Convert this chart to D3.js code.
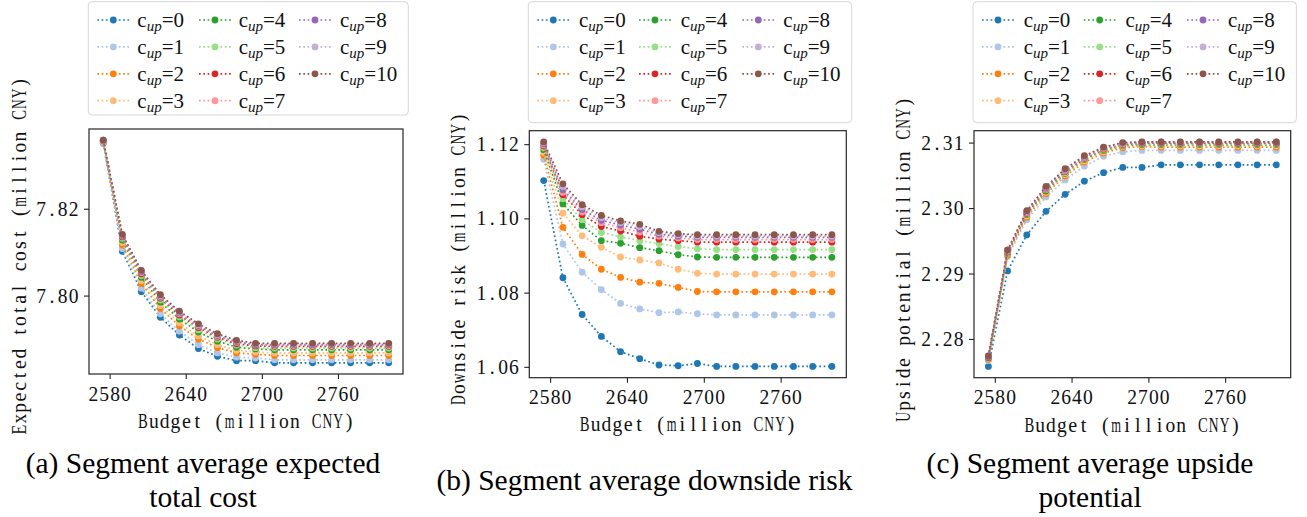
<!DOCTYPE html>
<html><head><meta charset="utf-8">
<script src="https://cdn.jsdelivr.net/npm/d3@7"></script>
<style>body{margin:0;background:#fff} svg{display:block}</style>
</head><body>
<svg id="chart" width="1307" height="517"></svg>
<script>
// ---------- data ----------
const budgets = [2575,2590,2605,2620,2635,2650,2665,2680,2695,2710,2725,2740,2755,2770,2785,2800];
const cupValues = [0,1,2,3,4,5,6,7,8,9,10];
const seriesColors = ["#1f77b4","#aec7e8","#ff7f0e","#ffbb78","#2ca02c","#98df8a","#d62728","#ff9896","#9467bd","#c5b0d5","#8c564b"];
const xTickValues = [2580,2640,2700,2760];

const expectedCost = [
 [7.8351,7.8102,7.8009,7.7950,7.7909,7.7878,7.7860,7.7850,7.7850,7.7845,7.7845,7.7845,7.7845,7.7845,7.7845,7.7845],
 [7.8352,7.8108,7.8017,7.7958,7.7918,7.7887,7.7868,7.7858,7.7856,7.7852,7.7852,7.7852,7.7852,7.7852,7.7852,7.7852],
 [7.8354,7.8117,7.8028,7.7970,7.7930,7.7900,7.7880,7.7868,7.7865,7.7862,7.7862,7.7862,7.7862,7.7862,7.7862,7.7862],
 [7.8355,7.8122,7.8034,7.7977,7.7937,7.7907,7.7887,7.7874,7.7870,7.7868,7.7868,7.7868,7.7868,7.7868,7.7868,7.7868],
 [7.8356,7.8128,7.8042,7.7985,7.7946,7.7916,7.7895,7.7881,7.7877,7.7875,7.7875,7.7875,7.7875,7.7875,7.7875,7.7875],
 [7.8356,7.8132,7.8046,7.7990,7.7951,7.7921,7.7900,7.7886,7.7880,7.7879,7.7879,7.7879,7.7879,7.7879,7.7879,7.7879],
 [7.8357,7.8135,7.8050,7.7994,7.7955,7.7926,7.7904,7.7889,7.7884,7.7883,7.7883,7.7883,7.7883,7.7883,7.7883,7.7883],
 [7.8357,7.8137,7.8053,7.7996,7.7958,7.7929,7.7906,7.7892,7.7886,7.7885,7.7885,7.7885,7.7885,7.7885,7.7885,7.7885],
 [7.8358,7.8138,7.8055,7.7998,7.7960,7.7931,7.7908,7.7894,7.7887,7.7887,7.7887,7.7887,7.7887,7.7887,7.7887,7.7887],
 [7.8358,7.8140,7.8057,7.8000,7.7962,7.7933,7.7910,7.7896,7.7889,7.7889,7.7889,7.7889,7.7889,7.7889,7.7889,7.7889],
 [7.8358,7.8141,7.8058,7.8002,7.7964,7.7935,7.7912,7.7897,7.7890,7.7890,7.7890,7.7890,7.7890,7.7890,7.7890,7.7890]
];
const downsideRisk = [
 [1.1102,1.0840,1.0741,1.0682,1.0641,1.0622,1.0605,1.0603,1.0609,1.0601,1.0601,1.0601,1.0601,1.0601,1.0601,1.0601],
 [1.1159,1.0931,1.0855,1.0808,1.0771,1.0756,1.0746,1.0748,1.0743,1.0740,1.0740,1.0740,1.0740,1.0740,1.0740,1.0740],
 [1.1170,1.0976,1.0903,1.0863,1.0841,1.0828,1.0825,1.0814,1.0803,1.0802,1.0802,1.0802,1.0802,1.0802,1.0802,1.0802],
 [1.1178,1.1014,1.0953,1.0922,1.0896,1.0888,1.0880,1.0863,1.0852,1.0850,1.0850,1.0850,1.0850,1.0850,1.0850,1.0850],
 [1.1185,1.1039,1.0981,1.0940,1.0933,1.0921,1.0913,1.0902,1.0896,1.0895,1.0895,1.0895,1.0895,1.0895,1.0895,1.0895],
 [1.1190,1.1053,1.0996,1.0962,1.0950,1.0940,1.0932,1.0924,1.0918,1.0916,1.0916,1.0916,1.0916,1.0916,1.0916,1.0916],
 [1.1195,1.1064,1.1010,1.0978,1.0966,1.0952,1.0944,1.0940,1.0936,1.0936,1.0936,1.0936,1.0936,1.0936,1.0936,1.0936],
 [1.1198,1.1070,1.1017,1.0988,1.0975,1.0963,1.0952,1.0947,1.0943,1.0943,1.0943,1.0943,1.0943,1.0943,1.0943,1.0943],
 [1.1201,1.1077,1.1024,1.0995,1.0982,1.0971,1.0957,1.0952,1.0949,1.0949,1.0949,1.0949,1.0949,1.0949,1.0949,1.0949],
 [1.1204,1.1086,1.1031,1.1002,1.0988,1.0978,1.0961,1.0956,1.0952,1.0952,1.0952,1.0952,1.0952,1.0952,1.0952,1.0952],
 [1.1206,1.1093,1.1037,1.1008,1.0993,1.0984,1.0965,1.0959,1.0956,1.0956,1.0956,1.0956,1.0956,1.0956,1.0956,1.0956]
];
const upsidePotential = [
 [2.2758,2.2904,2.2959,2.2995,2.3021,2.3041,2.3054,2.3062,2.3062,2.3066,2.3066,2.3066,2.3066,2.3066,2.3066,2.3066],
 [2.2767,2.2926,2.2982,2.3017,2.3043,2.3064,2.3079,2.3086,2.3088,2.3088,2.3088,2.3088,2.3088,2.3088,2.3088,2.3088],
 [2.2769,2.2928,2.2986,2.3022,2.3049,2.3070,2.3084,2.3092,2.3094,2.3093,2.3093,2.3093,2.3093,2.3093,2.3093,2.3093],
 [2.2770,2.2930,2.2988,2.3024,2.3051,2.3072,2.3086,2.3094,2.3095,2.3095,2.3095,2.3095,2.3095,2.3095,2.3095,2.3095],
 [2.2771,2.2931,2.2990,2.3026,2.3053,2.3074,2.3088,2.3095,2.3097,2.3097,2.3097,2.3097,2.3097,2.3097,2.3097,2.3097],
 [2.2772,2.2932,2.2991,2.3028,2.3054,2.3075,2.3089,2.3096,2.3098,2.3098,2.3098,2.3098,2.3098,2.3098,2.3098,2.3098],
 [2.2772,2.2933,2.2992,2.3029,2.3056,2.3076,2.3090,2.3097,2.3099,2.3099,2.3099,2.3099,2.3099,2.3099,2.3099,2.3099],
 [2.2773,2.2934,2.2993,2.3030,2.3057,2.3077,2.3091,2.3098,2.3100,2.3100,2.3100,2.3100,2.3100,2.3100,2.3100,2.3100],
 [2.2773,2.2935,2.2994,2.3031,2.3058,2.3078,2.3092,2.3099,2.3100,2.3100,2.3100,2.3100,2.3100,2.3100,2.3100,2.3100],
 [2.2774,2.2935,2.2995,2.3032,2.3059,2.3079,2.3092,2.3099,2.3101,2.3101,2.3101,2.3101,2.3101,2.3101,2.3101,2.3101],
 [2.2774,2.2936,2.2996,2.3033,2.3060,2.3080,2.3093,2.3100,2.3101,2.3101,2.3101,2.3101,2.3101,2.3101,2.3101,2.3101]
];
const yTicksA = [7.80, 7.82];
const yTicksB = [1.06, 1.08, 1.10, 1.12];
const yTicksC = [2.28, 2.29, 2.30, 2.31];
const yLabels = ["Expected total cost (million CNY)", "Downside risk (million CNY)", "Upside potential (million CNY)"];
const xLabel = "Budget (million CNY)";
const captions = [["(a) Segment average expected","total cost"],["(b) Segment average downside risk"],["(c) Segment average upside","potential"]];

// ---------- layout ----------
const panels = [
 {data: expectedCost, yTicks: yTicksA, yLabel: yLabels[0], cap: captions[0],
  L:89, R:403, T:129, B:374, ylx:26, yly:256, xly:428, xty:400.5, capX:203, capY:[473,507],
  leg:{x:88.3, y:1.7, w:320, h:113.3, mk:[25,126.7,226.7], tx:[49,150.4,251.7]}},
 {data: downsideRisk, yTicks: yTicksB, yLabel: yLabels[1], cap: captions[1],
  L:529.3, R:846.3, T:130.7, B:377.7, ylx:465, yly:259, xly:431, xty:403.5, capX:644.5, capY:[490],
  leg:{x:528.3, y:1.7, w:323.4, h:121, mk:[25,126.7,230], tx:[50.7,152.4,255]}},
 {data: upsidePotential, yTicks: yTicksC, yLabel: yLabels[2], cap: captions[2],
  L:974, R:1290.7, T:130.7, B:377.7, ylx:910, yly:259.5, xly:432, xty:403.5, capX:1090, capY:[473,507],
  leg:{x:973, y:1.7, w:323.4, h:121, mk:[25,126.7,230], tx:[50.7,152.4,255]}}
];

const svg = d3.select("#chart");
const SERIF = "'Liberation Serif', 'DejaVu Serif', serif";
const CELL = 10.85, MSIZE = 20;

// half-width serif "monospace" text (mimics SimSun Latin glyphs)
function monoText(parent, str, x, y, anchor, rot) {
  const g = parent.append("g").attr("transform", `translate(${x},${y}) rotate(${rot||0})`);
  const total = str.length * CELL;
  const start = anchor === "middle" ? -total/2 : anchor === "end" ? -total : 0;
  [...str].forEach((ch, k) => {
    if (ch === " ") return;
    const cx = start + (k + 0.5) * CELL;
    const t = g.append("text").attr("x", cx).attr("y", 0).attr("text-anchor", "middle")
      .attr("font-family", SERIF).attr("font-size", MSIZE).attr("fill", "#111").text(ch);
    const w = t.node().getComputedTextLength();
    const maxW = CELL * 0.9;
    if (w > maxW) {
      const s = maxW / w;
      t.attr("transform", `translate(${cx},0) scale(${s},1) translate(${-cx},0)`);
    }
  });
  return g;
}

const xExt = d3.extent(budgets);
const xPad = (xExt[1]-xExt[0])*0.05;

panels.forEach(p => {
  const all = p.data.flat();
  const yExt = d3.extent(all);
  const yPad = (yExt[1]-yExt[0])*0.05;
  const x = d3.scaleLinear().domain([xExt[0]-xPad, xExt[1]+xPad]).range([p.L, p.R]);
  const y = d3.scaleLinear().domain([yExt[0]-yPad, yExt[1]+yPad]).range([p.B, p.T]);

  // series
  const line = d3.line().x((d,j)=>x(budgets[j])).y(d=>y(d));
  const gS = svg.append("g");
  p.data.forEach((vals,i) => {
    const g = gS.append("g");
    g.append("path").datum(vals).attr("d", line).attr("fill","none")
      .attr("stroke", seriesColors[i]).attr("stroke-width",1.7)
      .attr("stroke-dasharray","1.7,2.6");
    g.selectAll("circle").data(vals).join("circle")
      .attr("cx",(d,j)=>x(budgets[j])).attr("cy",d=>y(d)).attr("r",3.4)
      .attr("fill", seriesColors[i]);
  });

  // axes (tick marks from d3, labels as half-width serif text)
  const xa = svg.append("g").attr("transform",`translate(0,${p.B})`)
    .call(d3.axisBottom(x).tickValues(xTickValues).tickSize(5).tickFormat(""));
  const ya = svg.append("g").attr("transform",`translate(${p.L},0)`)
    .call(d3.axisLeft(y).tickValues(p.yTicks).tickSize(5).tickFormat(""));
  [xa,ya].forEach(a => {
    a.select(".domain").remove();
    a.selectAll("text").remove();
    a.selectAll("line").attr("stroke","#222").attr("stroke-width",1.1);
  });
  const fx = d3.format("d"), fy = d3.format(".2f");
  xTickValues.forEach(v => monoText(svg, fx(v), x(v), p.xty, "middle"));
  p.yTicks.forEach(v => monoText(svg, fy(v), p.L - 10, y(v) + 7, "end"));

  // frame
  svg.append("rect").attr("x",p.L).attr("y",p.T).attr("width",p.R-p.L).attr("height",p.B-p.T)
    .attr("fill","none").attr("stroke","#262626").attr("stroke-width",1.2);

  // axis labels
  monoText(svg, xLabel, (p.L+p.R)/2, p.xly, "middle");
  monoText(svg, p.yLabel, p.ylx, p.yly, "middle", -90);

  // captions
  p.cap.forEach((t,k) => {
    svg.append("text").attr("x",p.capX).attr("y",p.capY[k]).attr("text-anchor","middle")
      .attr("font-family",SERIF).attr("font-size",29.5).attr("fill","#000").text(t);
  });

  // legend
  const lg = svg.append("g").attr("transform",`translate(${p.leg.x},${p.leg.y})`);
  lg.append("rect").attr("x",0).attr("y",0).attr("width",p.leg.w).attr("height",p.leg.h)
    .attr("rx",4).attr("fill","#fff").attr("fill-opacity",0.8).attr("stroke","#d6d6d6").attr("stroke-width",1);
  cupValues.forEach((c,i) => {
    const col = Math.floor(i/4), row = i%4;
    const cy = 18.3 + row*26.9;
    const mx = p.leg.mk[col];
    lg.append("line").attr("x1",mx-16).attr("x2",mx+16).attr("y1",cy).attr("y2",cy)
      .attr("stroke",seriesColors[i]).attr("stroke-width",1.7).attr("stroke-dasharray","1.7,2.6");
    lg.append("circle").attr("cx",mx).attr("cy",cy).attr("r",3.4).attr("fill",seriesColors[i]);
    const t = lg.append("text").attr("x",p.leg.tx[col]).attr("y",cy+7).attr("font-family",SERIF)
      .attr("font-size",21).attr("fill","#111");
    t.append("tspan").text("c");
    t.append("tspan").attr("font-style","italic").attr("font-size",15).attr("dy",4).text("up");
    t.append("tspan").attr("dy",-4).text("=" + c);
  });
});
</script>
</body></html>
